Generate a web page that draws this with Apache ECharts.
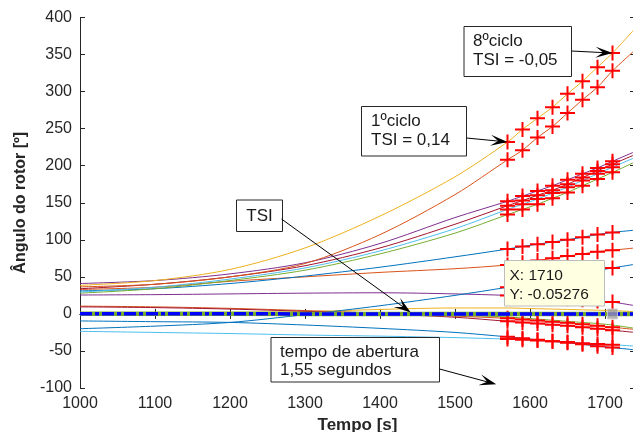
<!DOCTYPE html>
<html><head><meta charset="utf-8">
<script src="https://cdn.jsdelivr.net/npm/echarts@6/dist/echarts.min.js"></script>
<style>html,body{margin:0;padding:0;background:#fff}#c{width:633px;height:432px}</style>
</head><body><div id="c"></div>
<script>
// ---- data ----
const timeX = [1000,1100,1200,1300,1400,1500,1570,1590,1610,1630,1650,1670,1690,1710,1740];
const cycleStart = 1570, cycleEnd = 1710;
const yellowTop    = [38.5,45,60,89,132,185,232,249,264,279,297,314,333,352,385];
const orangeTop    = [36.5,40,50,68,107,161,208,221,238,253,271,289,306,328,356];
const purpleTop    = [41,45,54,69,95,130,152,159,166,173,181,189,197,206,219];
const darkRedTop   = [34,40,50,65,89,121,146,153,160,167,175,184,193,202,215];
const lightBlueTop = [29.5,36,47,62,85,115,141,148,155,163,171,180,189,198,211];
const greenTop     = [28,34,45,59,81,109,134,141,148,156,164,173,182,191,205];
const blueMid      = [31,34,41,51,63,77,87.5,91,94,97,100,103.5,107,110,113];
const orangeMid    = [33,36,44,50,56,61,66,69,72,75,78,81,84,86,89];
const purpleLow    = [25.5,26,27,28,28.5,27,25,24,23,22,20.5,19,17.5,16,11];
const yellowLow    = [1,1.5,2,3,6,8,8,7.5,7,6.5,6,5.5,5,4.5,3];
const redA         = [10.5,9.5,7.5,4.5,1,-3,-6,-7.5,-9,-10.5,-12,-14,-16,-18,-21];
const redB         = [9.5,8.5,6.5,3.5,0,-4.5,-10,-11.5,-13,-14.5,-16,-18,-20,-22,-25];
const greenLow     = [0.5,0.5,0.5,0.5,0,-2,-4,-5.5,-7,-8.5,-10,-11.5,-13,-15,-19.5];
const blueRise     = [-20,-16.5,-11.5,-1,11,25,36,40,43.5,47,51,55,58.5,62,67];
const blueFall     = [-9.5,-10.5,-11.5,-15,-19.5,-25,-31,-33,-35,-37,-39,-41,-43.5,-45.5,-48.5];
const lightBlueLow = [-23.5,-25,-26.5,-28.5,-30,-32,-34,-35,-36,-37,-38,-39.5,-40.5,-41.5,-43.5];
const tsiValues    = [0.3,0.2,0.1,0,0,0,0,0,-0.01,-0.02,-0.03,-0.04,-0.05,-0.05276,-0.06];
const dataTip = [1710, -0.05276];
const xTicks = [1000,1100,1200,1300,1400,1500,1600,1700];
const yTicks = [-100,-50,0,50,100,150,200,250,300,350,400];

const curves = [
  {v: yellowLow, c:'#EDB120', m:false},
  {v: greenLow, c:'#77AC30', m:false},
  {v: purpleLow, c:'#7E2F8E', m:true},
  {v: redA, c:'#D95319', m:true},
  {v: redB, c:'#A2142F', m:true},
  {v: blueRise, c:'#0072BD', m:true},
  {v: blueFall, c:'#0072BD', m:true},
  {v: lightBlueLow, c:'#4DBEEE', m:true},
  {v: orangeMid, c:'#D95319', m:true},
  {v: blueMid, c:'#0072BD', m:true},
  {v: greenTop, c:'#77AC30', m:true},
  {v: lightBlueTop, c:'#4DBEEE', m:true},
  {v: darkRedTop, c:'#A2142F', m:true},
  {v: purpleTop, c:'#7E2F8E', m:true},
  {v: orangeTop, c:'#D95319', m:true},
  {v: yellowTop, c:'#EDB120', m:true}
];

const FONT = 'Liberation Sans, Arial, Helvetica, sans-serif';
const AX = '#262626';
const plusPath = 'path://M0,6.5h15v2H0z M6.5,0h2v15H6.5z';

const series = [];
curves.forEach(cv => {
  series.push({
    type:'line', smooth:0.3, silent:true, z:2,
    lineStyle:{color:cv.c, width:1},
    itemStyle:{color:'#FF0000'},
    symbol: plusPath, symbolSize:15, showSymbol:true,
    data: timeX.map((x,i) => {
      const it = {value:[x, cv.v[i]]};
      if (!(cv.m && x >= cycleStart && x <= cycleEnd)) it.symbol = 'none';
      return it;
    })
  });
});
// TSI thick lines
series.push({type:'line', silent:true, z:3, symbol:'none',
  lineStyle:{color:'#77AC30', width:4.5},
  data: timeX.map((x,i)=>[x, tsiValues[i]])});
series.push({type:'line', silent:true, z:4, symbol:'none',
  lineStyle:{color:'#0000FF', width:3.5, type:[12,3,4,3]},
  data: timeX.map((x,i)=>[x, tsiValues[i]])});
series.push({type:'scatter', silent:true, z:5, symbol:'rect', symbolSize:10,
  itemStyle:{color:'#A0A0A0', borderColor:'#d0d0d0', borderWidth:1},
  data:[dataTip]});

const chart = echarts.init(document.getElementById('c'), null, {renderer:'canvas'});
const axisCommon = {
  axisLine:{show:true, lineStyle:{color:AX, width:1}},
  axisTick:{show:true, inside:true, length:5, lineStyle:{color:AX}},
  splitLine:{show:false}
};
chart.setOption({
  animation:false,
  backgroundColor:'#ffffff',
  grid:{left:80, top:17.5, width:555, height:370.5, containLabel:false, outerBoundsMode:'none'},
  xAxis:[
    Object.assign({type:'value', min:1000, max:1740, interval:100, position:'bottom',
      name:'Tempo [s]', nameLocation:'middle', nameGap:26,
      nameTextStyle:{fontFamily:FONT, fontWeight:'bold', fontSize:17, color:AX},
      axisLabel:{fontFamily:FONT, fontSize:16, color:AX, margin:8,
        formatter: v => xTicks.includes(v) ? String(v) : ''}}, axisCommon),
    Object.assign({type:'value', min:1000, max:1740, interval:100, position:'top',
      axisLabel:{show:false}}, axisCommon)
  ],
  yAxis:[
    Object.assign({type:'value', min:-100, max:400, interval:50, position:'left',
      name:'Ângulo do rotor [º]', nameLocation:'middle', nameGap:43, nameRotate:90,
      nameTextStyle:{fontFamily:FONT, fontWeight:'bold', fontSize:16, color:AX},
      axisLabel:{fontFamily:FONT, fontSize:16, color:AX, margin:8,
        formatter: v => yTicks.includes(v) ? String(v) : ''}}, axisCommon),
    Object.assign({type:'value', min:-100, max:400, interval:50, position:'right',
      axisLabel:{show:false}}, axisCommon)
  ],
  series: series
});

// ---- annotations ----
function px(pt){ return chart.convertToPixel({gridIndex:0}, pt); }
function arrow(tail, tip){
  const dx = tip[0]-tail[0], dy = tip[1]-tail[1];
  const len = Math.hypot(dx,dy), ux = dx/len, uy = dy/len, nx = -uy, ny = ux;
  const L = 17, W = 5.5, N = 0.55*L;
  return [
    {type:'line', z:100, silent:true, shape:{x1:tail[0], y1:tail[1], x2:tip[0]-ux*N, y2:tip[1]-uy*N},
      style:{stroke:'#000', lineWidth:1}},
    {type:'polygon', z:101, silent:true, shape:{points:[
      [tip[0], tip[1]],
      [tip[0]-ux*L+nx*W, tip[1]-uy*L+ny*W],
      [tip[0]-ux*N, tip[1]-uy*N],
      [tip[0]-ux*L-nx*W, tip[1]-uy*L-ny*W]
    ]}, style:{fill:'#000'}}
  ];
}
function box(x,y,w,h,fill,stroke){
  return {type:'rect', z:100, silent:true, shape:{x:x, y:y, width:w, height:h},
    style:{fill:fill||'#fff', stroke:stroke||'#262626', lineWidth:1}};
}
function txt(s,x,y,size,align){
  return {type:'text', z:102, silent:true, style:{text:s, x:x, y:y, fill:'#1a1a1a',
    fontFamily:FONT, fontSize:size, textAlign:align||'left', textVerticalAlign:'middle'}};
}
const g = [];
g.push(box(464,26.5,107.5,50));
g.push(txt('8ºciclo',473,41,17), txt('TSI = -0,05',473,60.5,17));
g.push(...arrow([571.5,51], px([1710,352])));
g.push(box(361.5,106.5,105,49.5));
g.push(txt('1ºciclo',371,121,17), txt('TSI = 0,14',371,140,17));
g.push(...arrow([466.5,138], px([1570,232])));
g.push(box(236.5,200,46,31.5));
g.push(txt('TSI',259.5,216,17,'center'));
g.push(...arrow([281.5,219], px([1441,2])));
g.push(box(271,337.5,168.5,44.5));
g.push(txt('tempo de abertura',280,352.5,17), txt('1,55 segundos',280,370.5,17));
g.push(...arrow([439.5,369], px([1555,-95])));
g.push(box(504.5,260.5,100,45.5,'#FFFFE1','#BDBDBD'));
g.push(txt('X: 1710',509.5,276,15.5), txt('Y: -0.05276',509.5,294.5,15.5));
chart.setOption({graphic:{elements:g}});
</script>
</body></html>
